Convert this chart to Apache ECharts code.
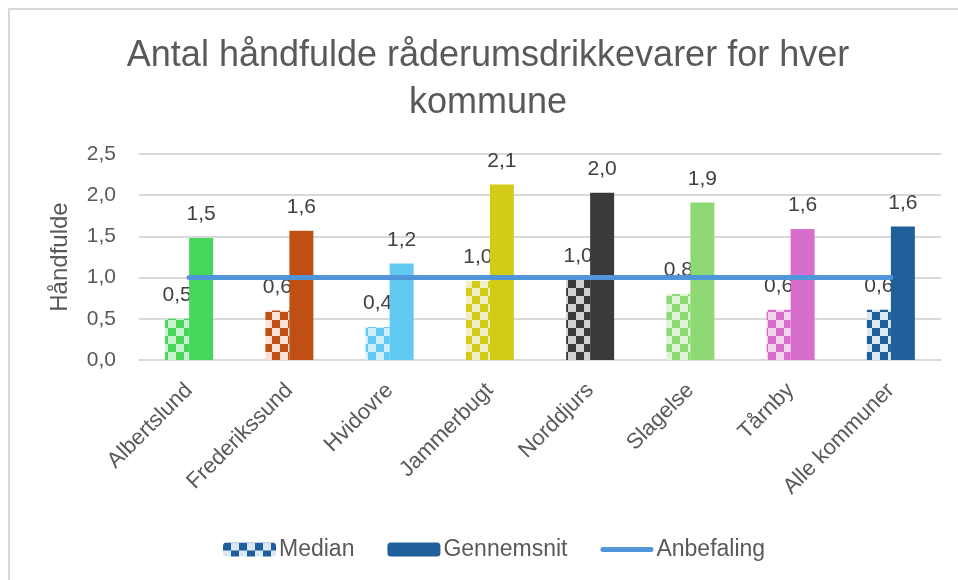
<!DOCTYPE html>
<html>
<head>
<meta charset="utf-8">
<script src="https://cdn.jsdelivr.net/npm/echarts@6/dist/echarts.min.js"></script>
<style>
html,body{margin:0;padding:0;background:#fff;}
#chart{width:958px;height:580px;}
</style>
</head>
<body>
<div id="chart"></div>
<script>
const categories = ['Albertslund','Frederikssund','Hvidovre','Jammerbugt','Norddjurs','Slagelse','Tårnby','Alle kommuner'];
const medianValues = [0.50, 0.60, 0.40, 0.96, 0.97, 0.80, 0.61, 0.61];
const meanValues = [1.48, 1.57, 1.17, 2.13, 2.03, 1.91, 1.59, 1.62];
const recommendation = [1, 1, 1, 1, 1, 1, 1, 1];
const yTicks = [0, 0.5, 1.0, 1.5, 2.0, 2.5];
const darkColors = ['#45D65A','#C04F15','#60CAF3','#D2CC17','#3A3A3A','#8ED973','#D86ECC','#215F9A'];
const lightColors = ['#C7F2CD','#FBE2D5','#CFEFFC','#F0F0C6','#D0D0D0','#DDF5D5','#F3D3EF','#DAE8F5'];

function checker(dark, light, size) {
  const c = document.createElement('canvas');
  c.width = size * 2; c.height = size * 2;
  const ctx = c.getContext('2d');
  ctx.fillStyle = light; ctx.fillRect(0, 0, size * 2, size * 2);
  ctx.fillStyle = dark;
  ctx.fillRect(0, 0, size, size);
  ctx.fillRect(size, size, size, size);
  return { image: c, repeat: 'repeat' };
}

const fmt = v => v.toFixed(1).replace('.', ',');
const textColor = '#595959';
const fontFam = "'Liberation Sans', Arial, sans-serif";
const lineIcon = 'path://M2.5,0 L50.5,0 A2.5,2.5 0 0 1 50.5,5 L2.5,5 A2.5,2.5 0 0 1 2.5,0 Z';

const chart = echarts.init(document.getElementById('chart'));
chart.setOption({
  backgroundColor: '#fff',
  animation: false,
  textStyle: { fontFamily: fontFam },
  graphic: [{
    type: 'rect', silent: true,
    shape: { x: 9, y: 9, width: 1000, height: 1000 },
    style: { fill: 'none', stroke: '#D9D9D9', lineWidth: 2 }
  }],
  title: {
    text: 'Antal håndfulde råderumsdrikkevarer for hver\nkommune',
    left: 488, top: 33, padding: 0, textAlign: 'center',
    textStyle: { fontSize: 36, fontWeight: 'normal', color: textColor, lineHeight: 47 }
  },
  legend: {
    left: 218, top: 533,
    itemWidth: 53, itemHeight: 14, itemGap: 33,
    textStyle: { fontSize: 23, color: textColor, padding: [0, 0, 0, -2] },
    data: ['Median', 'Gennemsnit', { name: 'Anbefaling', icon: lineIcon }]
  },
  grid: { left: 139, right: 17, top: 154, bottom: 220 },
  xAxis: {
    type: 'category', data: categories,
    axisTick: { show: false },
    axisLine: { lineStyle: { color: '#D9D9D9', width: 2 } },
    axisLabel: { rotate: 45, fontSize: 22, color: textColor, margin: 27, interval: 0 }
  },
  yAxis: {
    type: 'value', min: yTicks[0], max: yTicks[yTicks.length - 1], interval: 0.5,
    name: 'Håndfulde', nameLocation: 'middle', nameGap: 67,
    nameTextStyle: { fontSize: 24, color: textColor },
    axisLabel: { fontSize: 21, color: textColor, margin: 23, formatter: v => fmt(v) },
    splitLine: { lineStyle: { color: '#D9D9D9', width: 2 } }
  },
  series: [
    {
      name: 'Median', type: 'bar', barWidth: 24, barGap: '0%',
      itemStyle: { color: checker('#215F9A', '#DAE8F5', 8) },
      data: medianValues.map((v, i) => ({ value: v, itemStyle: { color: checker(darkColors[i], lightColors[i], 8) } })),
      label: { show: true, position: 'top', distance: 13, fontSize: 21, color: '#404040', formatter: p => fmt(p.value) },
      z: 2
    },
    {
      name: 'Gennemsnit', type: 'bar', barWidth: 24, barGap: '0%',
      itemStyle: { color: '#215F9A' },
      data: meanValues.map((v, i) => ({ value: v, itemStyle: { color: darkColors[i] } })),
      label: { show: true, position: 'top', distance: 13, fontSize: 21, color: '#404040', formatter: p => fmt(p.value) },
      z: 3
    },
    {
      name: 'Anbefaling', type: 'line', data: recommendation,
      symbol: 'none', showSymbol: false,
      lineStyle: { color: '#4E95D9', width: 5, cap: 'round' },
      itemStyle: { color: '#4E95D9' },
      z: 4
    }
  ]
});
</script>
</body>
</html>
